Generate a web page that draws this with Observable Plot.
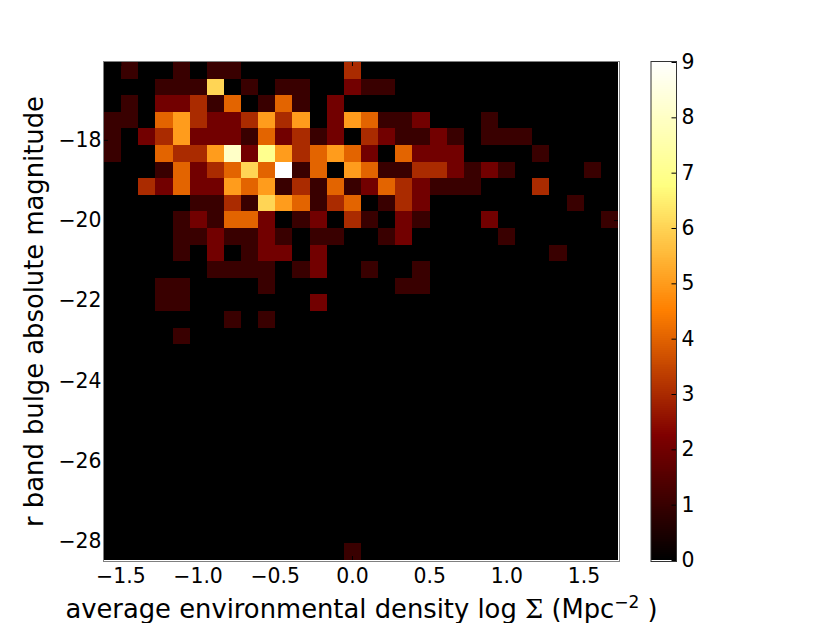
<!DOCTYPE html>
<html>
<head>
<meta charset="utf-8">
<script src="https://cdn.jsdelivr.net/npm/d3@7"></script>
<script src="https://cdn.jsdelivr.net/npm/@observablehq/plot@0.6"></script>
<style>
html,body{margin:0;padding:0;background:#fff;}
#wrap{position:relative;width:830px;height:623px;overflow:hidden;}
#wrap svg{position:absolute;top:0;background:transparent;}
</style>
</head>
<body>
<div id="wrap"></div>
<script>
const xDomain = [-1.606, 1.723];
const yDomain = [-28.47, -16.06];
const xTicks = [-1.5, -1.0, -0.5, 0.0, 0.5, 1.0, 1.5];
const yTicks = [-18, -20, -22, -24, -26, -28];
const barTicks = [0, 1, 2, 3, 4, 5, 6, 7, 8, 9];
const xLabel = "average environmental density log Σ (Mpc−2 )";
const yLabel = "r band bulge absolute magnitude";
// counts per bin, top row first, left column first
const counts = [
  "010010110000003000000000000000",
  "000111601011002110000000000000",
  "010223140141020000000000000000",
  "110453223535025411200010000000",
  "102352221423120321121011100000",
  "100433582753454204222000010000",
  "000142346491405411332121000010",
  "003242254513141243211100030000",
  "000001131654134013200000000100",
  "000012144201203102100020000001",
  "000011211210110012000001000000",
  "000010201220200000000000001000",
  "000000111101200100100000000000",
  "000110000100000001100000000000",
  "000110000000200000000000000000",
  "000000010100000000000000000000",
  "000010000000000000000000000000",
  "000000000000000000000000000000",
  "000000000000000000000000000000",
  "000000000000000000000000000000",
  "000000000000000000000000000000",
  "000000000000000000000000000000",
  "000000000000000000000000000000",
  "000000000000000000000000000000",
  "000000000000000000000000000000",
  "000000000000000000000000000000",
  "000000000000000000000000000000",
  "000000000000000000000000000000",
  "000000000000000000000000000000",
  "000000000000001000000000000000"
];

const nCols = 30, nRows = 30;
const binW = (xDomain[1] - xDomain[0]) / nCols;
const binH = (yDomain[1] - yDomain[0]) / nRows;
const bins = [];
counts.forEach((row, j) => {
  [...row].forEach((c, i) => {
    bins.push({
      x1: xDomain[0] + i * binW, x2: xDomain[0] + (i + 1) * binW,
      y1: yDomain[1] - j * binH, y2: yDomain[1] - (j + 1) * binH,
      n: +c
    });
  });
});

// afmhot
const colorOpts = {type: "linear", domain: [0, 2.25, 4.5, 6.75, 9],
  range: ["#000000", "#800000", "#ff8000", "#ffff80", "#ffffff"]};

const FONT = "'DejaVu Sans', sans-serif";
const FS = 20.4;
const LS = 25.8;

const main = Plot.plot({
  width: 830, height: 623,
  marginLeft: 104, marginRight: 212, marginTop: 62, marginBottom: 63,
  style: {fontFamily: FONT, fontSize: FS + "px", background: "transparent", color: "#000", overflow: "visible"},
  x: {domain: xDomain, label: null},
  y: {domain: yDomain, label: null},
  color: colorOpts,
  marks: [
    Plot.rect(bins, {x1: "x1", x2: "x2", y1: "y1", y2: "y2", fill: "n", shapeRendering: "crispEdges"}),
    Plot.axisX({anchor: "bottom", ticks: xTicks, tickSize: 0, tickPadding: 8.5, tickFormat: d3.format(".1f"), label: null, fontSize: FS}),
    Plot.axisY({anchor: "left", ticks: yTicks, tickSize: 0, tickPadding: 3, tickFormat: d3.format("d"), label: null, fontSize: FS}),
    Plot.tickX(xTicks, {x: d => d, stroke: "#000", insetTop: 494}),
    Plot.tickX(xTicks, {x: d => d, stroke: "#000", insetBottom: 494}),
    Plot.tickY(yTicks, {y: d => d, stroke: "#000", insetRight: 510}),
    Plot.tickY(yTicks, {y: d => d, stroke: "#000", insetLeft: 510}),
    Plot.frame({stroke: "#808080", strokeWidth: 1, inset: -1}),
    Plot.text([xLabel], {frameAnchor: "bottom", lineAnchor: "middle", dy: 49, textAnchor: "middle", text: d => d, fontSize: LS, className: "xlab"}),
    Plot.text([yLabel], {frameAnchor: "left", lineAnchor: "middle", textAnchor: "middle", dx: -70, rotate: -90, text: d => d, fontSize: LS, className: "ylab"})
  ]
});

// superscript and serif sigma in the x label
d3.select(main).select(".xlab text").each(function () {
  const t = d3.select(this);
  t.text(null);
  t.append("tspan").text("average environmental density log ");
  t.append("tspan").attr("font-family", "'DejaVu Serif', serif").text("Σ");
  t.append("tspan").text(" (Mpc");
  t.append("tspan").attr("dy", "-10").attr("font-size", "17").text("−2");
  t.append("tspan").attr("dy", "10").text(" )");
});

const levels = d3.range(0, 256).map(i => i * 9 / 256);
const bar = Plot.plot({
  width: 100, height: 623,
  marginLeft: 10.5, marginRight: 64, marginTop: 62, marginBottom: 63,
  style: {fontFamily: FONT, fontSize: FS + "px", background: "transparent", color: "#000", overflow: "visible"},
  x: {domain: [0, 1], axis: null},
  y: {domain: [0, 9], label: null},
  color: colorOpts,
  marks: [
    Plot.rect(levels, {x1: 0, x2: 1, y1: d => d, y2: d => d + 9 / 256, fill: d => d, shapeRendering: "crispEdges"}),
    Plot.axisY({anchor: "right", ticks: barTicks, tickSize: 0, tickPadding: 5, tickFormat: d3.format("d"), label: null, fontSize: FS}),
    Plot.tickY(barTicks, {y: d => d, stroke: "#000", insetLeft: 21}),
    Plot.frame({stroke: "#333", strokeWidth: 1, insetTop: -1, insetBottom: -1})
  ]
});

const wrap = document.getElementById("wrap");
main.style.left = "0px";
bar.style.left = "640px";
wrap.appendChild(main);
wrap.appendChild(bar);
</script>
</body>
</html>
